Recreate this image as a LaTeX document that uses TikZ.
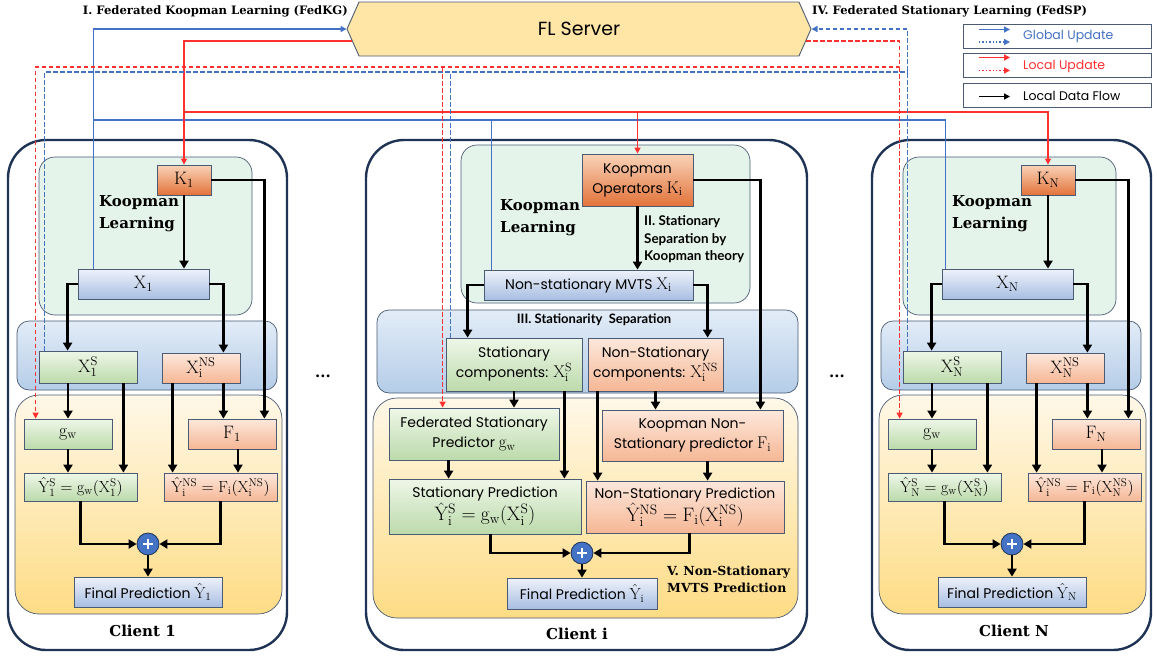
\documentclass[tikz,border=0pt]{standalone}
\usepackage{fix-cm}
\usepackage{fontspec}
\usetikzlibrary{arrows.meta,shapes.symbols,calc}
\newfontfamily\gothic{Poppins}
\newfontfamily\slab{DejaVu Serif}
\newfontfamily\hsans{Lato}

\definecolor{navy}{HTML}{1F3354}
\definecolor{edge}{HTML}{4A5B73}
\definecolor{gcol}{HTML}{4472C4}
\definecolor{rcol}{HTML}{FF3030}
\definecolor{greenbg}{HTML}{E4F4EA}
\definecolor{blueregT}{HTML}{E2ECF7}
\definecolor{blueregB}{HTML}{B5CDE8}
\definecolor{yelT}{HTML}{FFF8E8}
\definecolor{yelB}{HTML}{FEDC85}
\definecolor{orT}{HTML}{F9D3B8}
\definecolor{orB}{HTML}{E2733A}
\definecolor{blT}{HTML}{EEF2FA}
\definecolor{blB}{HTML}{A8BEE2}
\definecolor{grT}{HTML}{EEF7E8}
\definecolor{grB}{HTML}{BCDAAB}
\definecolor{peT}{HTML}{FDE8DC}
\definecolor{peB}{HTML}{F5B795}
\definecolor{srv}{HTML}{FFE5A6}
\definecolor{plusc}{HTML}{4472C4}

\tikzset{
  sz/.style 2 args={minimum width=#1pt, minimum height=#2pt},
  outerbox/.style={draw=navy, line width=2.4pt, rounded corners=38pt, fill=white},
  greenreg/.style={draw=edge, line width=0.7pt, rounded corners=16pt, fill=greenbg},
  bluereg/.style={draw=edge, line width=0.7pt, rounded corners=12pt, top color=blueregT, bottom color=blueregB},
  yellowreg/.style={draw=edge, line width=0.7pt, rounded corners=24pt, top color=yelT, bottom color=yelB},
  bx/.style={draw=edge, line width=0.8pt, inner sep=1pt, align=center, font=\gothic\fontsize{14}{20}\selectfont},
  kbox/.style={bx, top color=orT, bottom color=orB},
  xbox/.style={bx, top color=blT, bottom color=blB},
  gbox/.style={bx, top color=grT, bottom color=grB},
  pbox/.style={bx, top color=peT, bottom color=peB},
  mth/.style={font=\fontsize{18}{20}\selectfont},
  fml/.style={font=\fontsize{16}{18}\selectfont},
  plusnode/.style={circle, draw=navy, line width=0.8pt, fill=plusc, minimum size=22pt, inner sep=0pt,
    path picture={\draw[white, line width=1.8pt] (path picture bounding box.center) +(-5pt,0pt) -- +(5pt,0pt)
      (path picture bounding box.center) +(0pt,-5pt) -- +(0pt,5pt);}},
  kl/.style={align=left, inner sep=0pt, font=\slab\bfseries\fontsize{15}{22}\selectfont},
  clientlab/.style={inner sep=0pt, font=\slab\bfseries\fontsize{15}{18}\selectfont},
  toplab/.style={inner sep=0pt, font=\slab\bfseries\fontsize{11.6}{13}\selectfont},
  flow/.style={draw=black, line width=2.6pt, -{Triangle[width=9pt,length=8pt]}},
  gline/.style={draw=gcol, line width=1.4pt},
  rline/.style={draw=rcol, line width=1.4pt},
  bdash/.style={draw=gcol, line width=1.4pt, dash pattern=on 4.5pt off 2.5pt},
  rdash/.style={draw=rcol, line width=1.4pt, dash pattern=on 4.5pt off 2.5pt},
  tip/.style={-{Triangle[width=6pt,length=6pt]}},
  legbox/.style={draw=edge, line width=0.9pt, fill=white},
  legtext/.style={anchor=west, inner sep=0pt, font=\gothic\fontsize{12.5}{14}\selectfont},
}

% side client: #1 shift, #2 name suffix, #3 client index, #4 index of the NS terms, #5 label x, #6 x of "Koopman Learning"
\newcommand\sideclient[6]{%
\begin{scope}[xshift=#1pt]
  \node[outerbox, sz={279}{510}] (C#2) at (147.5,395) {};
  \node[greenreg, sz={213}{158}] (G#2) at (145.5,236) {};
  \node[bluereg, sz={260}{69}] (B#2) at (147,355.5) {};
  \node[yellowreg, sz={267}{219}] (Y#2) at (148.5,504.5) {};
  \node[kl, anchor=west] (KL#2) at (#6,214) {Koopman\\Learning};
  \node[kbox, mth, sz={54}{30}] (K#2) at (184,180) {$\mathrm{K}_{\mathrm{#3}}$};
  \node[xbox, mth, sz={131}{30}] (X#2) at (143.5,284) {$\mathrm{X}_{\mathrm{#3}}$};
  \node[gbox, mth, sz={98}{32}] (XS#2) at (88,367) {$\mathrm{X}^{\mathrm{S}}_{\mathrm{#3}}$};
  \node[pbox, mth, sz={78}{30}] (XNS#2) at (201,368) {$\mathrm{X}^{\mathrm{NS}}_{\mathrm{#4}}$};
  \node[gbox, mth, sz={88}{30}] (gw#2) at (68,434) {$\mathrm{g}_{\mathrm{w}}$};
  \node[pbox, mth, sz={88}{30}] (F#2) at (232,434) {$\mathrm{F}_{\mathrm{#3}}$};
  \node[gbox, fml, sz={113}{28}] (YS#2) at (80.5,487)
    {$\hat{\mathrm{Y}}^{\mathrm{S}}_{\mathrm{#3}} = \mathrm{g}_{\mathrm{w}}(\mathrm{X}^{\mathrm{S}}_{\mathrm{#3}})$};
  \node[pbox, fml, sz={113}{28}] (YNS#2) at (220.5,487)
    {$\hat{\mathrm{Y}}^{\mathrm{NS}}_{\mathrm{i}} = \mathrm{F}_{\mathrm{i}}(\mathrm{X}^{\mathrm{NS}}_{\mathrm{#4}})$};
  \node[plusnode] (P#2) at (148,544) {};
  \node[xbox, sz={148}{30}] (Fin#2) at (148,592) {Final Prediction {\fontsize{16}{18}\selectfont$\hat{\mathrm{Y}}_{\mathrm{#3}}$}};
  \node[clientlab] (CL#2) at (#5,631) {Client #3};
  % local data flow
  \draw[flow] (K#2.south) -- (K#2.south |- X#2.north);
  \draw[flow] (K#2.east) -| ([xshift=-12pt]F#2.north east);
  \draw[flow] (X#2.west) -| ([xshift=29pt]XS#2.north west);
  \draw[flow] (X#2.east) -| ([xshift=-17pt]XNS#2.north east);
  \draw[flow] (gw#2.north |- XS#2.south) -- (gw#2.north);
  \coordinate (sa#2) at ([xshift=-14pt]XS#2.south east);
  \draw[flow] (sa#2) -- (sa#2 |- YS#2.north);
  \coordinate (na#2) at ([xshift=11pt]XNS#2.south west);
  \draw[flow] (na#2) -- (na#2 |- YNS#2.north);
  \coordinate (nb#2) at ([xshift=-17pt]XNS#2.south east);
  \draw[flow] (nb#2) -- (nb#2 |- F#2.north);
  \draw[flow] (gw#2.south) -- (gw#2.south |- YS#2.north);
  \coordinate (fa#2) at ([xshift=6pt]F#2.south);
  \draw[flow] (fa#2) -- (fa#2 |- YNS#2.north);
  \draw[flow] (YS#2.south) |- (P#2.west);
  \draw[flow] (YNS#2.south) |- (P#2.east);
  \draw[flow] (P#2.south) -- (Fin#2.north);
\end{scope}}

\begin{document}
\begin{tikzpicture}[x=1pt,y=-1pt]
\useasboundingbox (0,0) rectangle (1157,657);

% ---------- clients 1 and N ----------
\sideclient{0}{1}{1}{i}{142.5}{99}
\sideclient{864}{N}{N}{N}{150}{88}

% ---------- client i ----------
\node[outerbox, sz={441}{510}] (Ci) at (586.5,395) {};
\node[greenreg, sz={289}{158}] (Gi) at (605.5,224) {};
\node[bluereg, sz={421}{83}] (Bi) at (587.5,351.5) {};
\node[yellowreg, sz={425}{220}] (Yi) at (585.5,508) {};
\node[kl, anchor=west] (KLi) at (500,217.5) {Koopman\\Learning};
\node[kbox, sz={111}{52}] (Ki) at (637.5,180) {Koopman\\Operators {\fontsize{17}{18}\selectfont$\mathrm{K}_{\mathrm{i}}$}};
\node[xbox, sz={209}{30}] (MVTS) at (588.5,285) {Non-stationary MVTS {\fontsize{17}{18}\selectfont$\mathrm{X}_{\mathrm{i}}$}};
\node[anchor=west, align=left, inner sep=0pt, font=\hsans\bfseries\fontsize{13.4}{17.5}\selectfont] (II) at (644,239.5)
  {II. Stationary\\Separation by\\Koopman theory};
\node[inner sep=0pt, font=\hsans\bfseries\fontsize{13}{14}\selectfont] (III) at (594,320) {III. Stationarity\ \ Separation};
\node[gbox, sz={136}{53}] (XSi) at (514,364.5) {Stationary\\components: {\fontsize{17}{18}\selectfont$\mathrm{X}^{\mathrm{S}}_{\mathrm{i}}$}};
\node[pbox, sz={135}{53}] (XNSi) at (655.5,364.5) {Non-Stationary\\components: {\fontsize{17}{18}\selectfont$\mathrm{X}^{\mathrm{NS}}_{\mathrm{i}}$}};
\node[gbox, sz={170}{52}] (FSP) at (474,434) {Federated Stationary\\Predictor {\fontsize{17}{18}\selectfont$\mathrm{g}_{\mathrm{w}}$}};
\node[pbox, sz={181}{51}] (KNSP) at (692.5,435.5) {Koopman Non-\\Stationary predictor {\fontsize{17}{18}\selectfont$\mathrm{F}_{\mathrm{i}}$}};
\node[gbox, sz={192}{55}] (SP) at (485,506.5) {Stationary Prediction\\{\fontsize{19.5}{20}\selectfont
  $\hat{\mathrm{Y}}^{\mathrm{S}}_{\mathrm{i}} = \mathrm{g}_{\mathrm{w}}(\mathrm{X}^{\mathrm{S}}_{\mathrm{i}})$}};
\node[pbox, sz={198}{52}] (NSP) at (685,507) {Non-Stationary Prediction\\{\fontsize{19.5}{20}\selectfont
  $\hat{\mathrm{Y}}^{\mathrm{NS}}_{\mathrm{i}} = \mathrm{F}_{\mathrm{i}}(\mathrm{X}^{\mathrm{NS}}_{\mathrm{i}})$}};
\node[plusnode] (Pi) at (582,553) {};
\node[xbox, sz={150}{31}] (Fini) at (582,593.5) {Final Prediction {\fontsize{16}{18}\selectfont$\hat{\mathrm{Y}}_{\mathrm{i}}$}};
\node[anchor=west, align=left, inner sep=0pt, font=\slab\bfseries\fontsize{12.5}{17}\selectfont] (V) at (667,579.5)
  {V. Non-Stationary\\MVTS Prediction};
\node[clientlab] (CLi) at (577,634) {Client i};

\draw[flow] (Ki.south) -- (Ki.south |- MVTS.north);
\draw[flow] (Ki.east) -| ([xshift=-23pt]KNSP.north east);
\draw[flow] (MVTS.west) -| ([xshift=22pt]XSi.north west);
\draw[flow] (MVTS.east) -| ([xshift=120pt]XNSi.north west);
\draw[flow] (XSi.south) -- (XSi.south |- FSP.north);
\coordinate (sai) at ([xshift=-18pt]XSi.south east);
\draw[flow] (sai) -- (sai |- SP.north);
\coordinate (nai) at ([xshift=10pt]XNSi.south west);
\draw[flow] (nai) -- (nai |- NSP.north);
\draw[flow] (XNSi.south) -- (XNSi.south |- KNSP.north);
\coordinate (fai) at ([xshift=60pt]FSP.south west);
\draw[flow] (fai) -- (fai |- SP.north);
\coordinate (kai) at ([xshift=106pt]KNSP.south west);
\draw[flow] (kai) -- (kai |- NSP.north);
\coordinate (spo) at ([xshift=102pt]SP.south west);
\draw[flow] (spo) |- (Pi.west);
\coordinate (nspo) at ([xshift=104pt]NSP.south west);
\draw[flow] (nspo) |- (Pi.east);
\draw[flow] (Pi.south) -- (Fini.north);

% ellipses between clients
\node[font=\slab\bfseries\fontsize{15}{16}\selectfont] (dotsL) at (323,376) {...};
\node[font=\slab\bfseries\fontsize{15}{16}\selectfont] (dotsR) at (837,376) {...};

% ---------- server and headings ----------
\node[signal, signal to=east and west, signal pointer angle=132, draw=edge, line width=0.9pt, fill=srv,
  sz={464}{54}, inner sep=0pt, font=\gothic\fontsize{19}{22}\selectfont] (S) at (579,29) {FL Server};
\node[toplab, anchor=east] (FedKG) at (348,11) {I. Federated Koopman Learning (FedKG)};
\node[toplab, anchor=west] (FedSP) at (812,11) {IV. Federated Stationary Learning (FedSP)};

% ---------- federated connectors ----------
\coordinate (gbusY) at (0,120);
\coordinate (rbusY) at (0,112);
\coordinate (rdY) at (0,67);
\coordinate (bdY) at (0,72);

% global Koopman update: X boxes up to the server
\coordinate (gt1) at ([xshift=16pt]X1.north west);
\coordinate (gti) at ([xshift=8pt]MVTS.north west);
\coordinate (gtN) at ([xshift=4pt]XN.north west);
\draw[gline, tip] (gt1) |- (S.west);
\draw[gline] (gt1 |- gbusY) -- (gtN |- gbusY);
\draw[gline] (gti) -- (gti |- gbusY);
\draw[gline] (gtN) -- (gtN |- gbusY);

% local Koopman update: server down to the K boxes
\draw[rline, tip] (S.183) -| (K1.north);
\draw[rline, tip] (K1.north |- rbusY) -| (KN.north);
\draw[rline, tip] (Ki.north |- rbusY) -- (Ki.north);

% global stationary update: stationary parts up to the server
\coordinate (bt1) at ([xshift=6pt]XS1.north west);
\coordinate (bti) at ([xshift=5pt]XSi.north west);
\coordinate (btN) at ([xshift=5pt]XSN.north west);
\draw[bdash, tip] (btN) |- (S.east);
\draw[bdash] (bt1) |- (btN |- bdY);
\draw[bdash] (bti) -- (bti |- bdY);

% local stationary update: server down to the predictors g_w
\coordinate (rt1) at ([xshift=12pt]gw1.north west);
\coordinate (rti) at ([xshift=54pt]FSP.north west);
\coordinate (rtN) at ([xshift=12pt]gwN.north west);
\draw[rdash, tip] (S.357.5) -| (rtN |- rdY) -| (rt1);
\draw[rdash, tip] (rtN |- rdY) -- (rtN);
\draw[rdash, tip] (rti |- rdY) -- (rti);

% ---------- legend ----------
\node[legbox, sz={188}{24}] (L1) at (1057,36) {};
\node[legbox, sz={188}{24}] (L2) at (1057,65.5) {};
\node[legbox, sz={188}{24}] (L3) at (1057,95) {};
\node[legtext, text=gcol] (LT1) at (1023,36) {Global Update};
\node[legtext, text=rcol] (LT2) at (1023,66) {Local Update};
\node[legtext] (LT3) at (1023,96) {Local Data Flow};
\coordinate (la1) at (979,29.5); \coordinate (lb1) at (1010,29.5);
\coordinate (la2) at (979,42);   \coordinate (lb2) at (1010,42);
\coordinate (la3) at (979,57.5); \coordinate (lb3) at (1010,57.5);
\coordinate (la4) at (979,70.5); \coordinate (lb4) at (1010,70.5);
\coordinate (la5) at (979,96.5); \coordinate (lb5) at (1010,96.5);
\draw[gline, tip] (la1) -- (lb1);
\draw[gline, dotted, tip] (la2) -- (lb2);
\draw[rline, tip] (la3) -- (lb3);
\draw[rline, dotted, tip] (la4) -- (lb4);
\draw[line width=1.4pt, tip] (la5) -- (lb5);
\end{tikzpicture}
\end{document}
